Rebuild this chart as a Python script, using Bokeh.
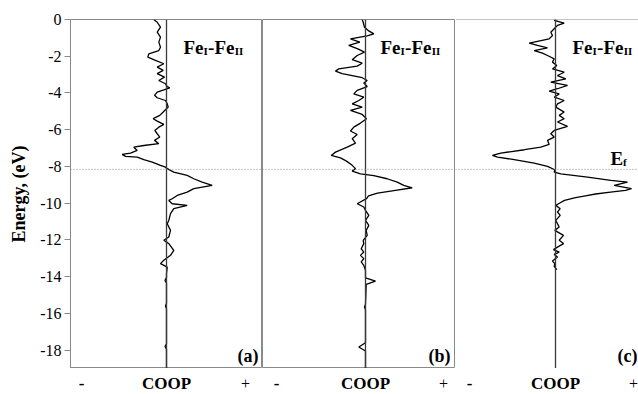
from bokeh.plotting import figure
from bokeh.layouts import row, column
from bokeh.models import Span, Label, Range1d, FixedTicker
from bokeh.core.properties import value
from bokeh.embed import file_html
from bokeh.resources import INLINE

# ---------------- data (COOP in arbitrary units) ----------------
energy_a = [0.00, -0.15, -0.42, -0.69, -0.96, -1.23, -1.51, -1.69, -1.87, -2.05,
            -2.23, -2.41, -2.59, -2.77, -2.95, -3.14, -3.32, -3.50, -3.65, -3.72,
            -3.83, -3.95, -4.13, -4.26, -4.41, -4.59, -4.77, -4.86, -5.04, -5.22,
            -5.40, -5.53, -5.71, -5.86, -6.04, -6.22, -6.40, -6.58, -6.76, -6.86,
            -6.95, -7.13, -7.27, -7.34, -7.45, -7.49, -7.63, -7.76, -7.94, -8.04,
            -8.12, -8.31, -8.49, -8.67, -8.85, -9.03, -9.21, -9.40, -9.58, -9.76,
            -9.85, -10.03, -10.12, -10.30, -10.57, -10.94, -11.12, -11.48, -11.84, -12.02,
            -12.20, -12.57, -12.84, -13.11, -13.29, -13.48, -13.84, -14.05, -14.20, -14.35,
            -15.45, -15.60, -15.75, -17.65, -17.80, -17.95, -19.00]
coop_a = [-12.7, -9.3, -6.0, -9.3, -6.0, -7.7, -6.0, -7.7, -17.7, -18.7,
          -11.0, -2.7, -9.3, -3.3, -9.3, -2.0, -7.7, -1.0, 0.7, 3.3,
          -2.7, -9.3, -12.0, -9.3, -1.0, 0.7, 1.7, 0.0, -3.3, -6.7,
          -13.3, -9.3, -2.7, -7.7, -11.7, -9.3, -6.7, -12.0, -7.7, -22.7,
          -32.7, -29.3, -36.0, -44.3, -41.0, -29.3, -22.7, -14.3, -6.0, -1.0,
          0.7, 7.3, 20.7, 27.3, 35.7, 45.7, 27.3, 20.7, 10.7, 5.7,
          2.3, 5.7, 20.7, 7.3, 4.0, 2.3, 0.7, 4.0, 2.3, -2.7,
          2.3, 7.3, 4.0, -2.7, -6.0, 0.7, 0.0, 0.0, -1.5, 0.0,
          0.0, -1.0, 0.0, 0.0, -1.5, 0.0, 0.0]

energy_b = [0.00, -0.15, -0.42, -0.62, -0.78, -0.89, -1.05, -1.23, -1.41, -1.60,
            -1.78, -1.96, -2.19, -2.38, -2.54, -2.69, -2.81, -2.95, -3.17, -3.32,
            -3.46, -3.65, -3.86, -4.05, -4.23, -4.41, -4.59, -4.77, -4.95, -5.17,
            -5.40, -5.64, -5.86, -6.07, -6.26, -6.49, -6.73, -6.95, -7.22, -7.40,
            -7.53, -7.71, -7.94, -8.12, -8.25, -8.40, -8.50, -8.67, -8.85, -9.03,
            -9.16, -9.30, -9.45, -9.60, -9.75, -10.03, -10.21, -10.39, -10.66, -10.94,
            -11.21, -11.48, -11.75, -12.02, -12.20, -12.48, -12.66, -12.84, -13.02, -13.20,
            -13.39, -13.66, -14.06, -14.24, -14.42, -15.50, -15.65, -15.80, -17.60, -17.83,
            -18.05, -19.00]
coop_b = [-3.3, -2.3, -1.0, 3.3, 8.3, 1.7, -15.0, -5.7, -16.7, -7.7,
          -1.0, -8.3, -13.3, -3.3, -8.3, -26.7, -30.0, -23.3, -3.3, 1.7,
          -1.7, 1.7, -8.3, -11.7, -1.7, -6.7, -13.3, -3.3, -15.0, -3.3,
          1.0, -5.0, -11.7, -15.0, -8.3, -13.3, -10.0, -18.3, -30.0, -34.3,
          -25.0, -19.0, -13.3, -10.0, -13.3, -5.0, 8.3, 21.7, 31.7, 38.3,
          46.7, 30.0, 12.0, 3.0, 1.0, -8.3, -1.7, 0.0, 3.3, 0.0,
          3.3, 0.7, 1.7, -2.3, -1.7, -4.3, -1.7, -5.0, -1.7, -4.3,
          -1.7, 0.0, 0.0, 10.0, 0.7, 0.0, -1.0, 0.0, 0.0, -6.7,
          0.0, 0.0]

energy_c = [0.00, -0.05, -0.20, -0.32, -0.50, -0.69, -0.87, -1.05, -1.29, -1.41,
            -1.54, -1.69, -1.83, -1.96, -2.14, -2.32, -2.50, -2.69, -2.87, -3.05,
            -3.23, -3.41, -3.59, -3.77, -3.90, -4.05, -4.23, -4.41, -4.59, -4.77,
            -5.04, -5.22, -5.40, -5.58, -5.82, -6.04, -6.22, -6.40, -6.58, -6.80,
            -6.95, -7.09, -7.27, -7.40, -7.49, -7.63, -7.82, -8.00, -8.18, -8.31,
            -8.40, -8.58, -8.76, -8.85, -9.03, -9.21, -9.30, -9.40, -9.50, -9.60,
            -9.70, -9.85, -10.03, -10.12, -10.30, -10.48, -10.66, -10.94, -11.30, -11.48,
            -11.75, -12.02, -12.20, -12.39, -12.53, -12.66, -12.79, -12.93, -13.15, -13.29,
            -13.44, -13.62]
coop_c = [0.0, -1.3, 8.7, 2.0, -1.3, -4.7, -3.0, -6.3, -26.3, -18.0,
          -8.0, -21.3, -13.0, -8.0, -1.3, -3.0, 1.3, -3.0, 8.7, 2.0,
          10.3, -4.7, 12.0, 2.0, -6.3, 3.7, -1.3, 8.7, 2.0, 0.3,
          8.7, 3.7, 8.7, 2.0, 12.0, -1.3, -4.7, -1.3, -8.0, -6.3,
          -14.7, -31.0, -54.7, -63.0, -58.0, -41.3, -21.3, -8.0, -0.7, -1.3,
          5.3, 32.0, 55.3, 72.0, 58.7, 76.0, 70.0, 55.0, 40.0, 30.0,
          20.0, 9.0, 3.0, 0.3, 4.7, 2.0, 4.7, 0.3, 3.7, -0.7,
          8.0, 3.7, 8.0, 2.0, -2.0, 3.7, -1.3, 2.0, -3.0, -0.7,
          -1.3, 1.3]

fermi_level = -8.16
energy_ticks = [0, -2, -4, -6, -8, -10, -12, -14, -16, -18]
panel_tags = ["(a)", "(b)", "(c)"]
bond_main = ["Fe", "-Fe"]
bond_sub = ["I", "II"]
caption_word = "COOP"
caption_signs = ["-", "+"]

# ---------------- styling ----------------
SERIF = "Liberation Serif"
FRAME = "#8a8a8a"
ZERO = "#3a3a3a"
INK = "black"

y_range = Range1d(-19, 0)
x_ranges = [Range1d(-96, 96), Range1d(-103, 90), Range1d(-100, 83)]
widths = [262, 193, 183]
left_borders = [70, 0, 0]

common = dict(height=368, y_range=y_range, output_backend="svg", toolbar_location=None,
              min_border_top=19, min_border_bottom=0, min_border_right=0,
              x_axis_location=None, background_fill_color="white",
              border_fill_color="white")

figs = []
for i in range(3):
    kw = dict(common)
    if i > 0:
        kw["y_axis_location"] = None
    f = figure(width=widths[i], x_range=x_ranges[i], min_border_left=left_borders[i], **kw)
    f.xgrid.visible = False
    f.ygrid.visible = False
    f.outline_line_color = FRAME
    f.outline_line_width = 1
    figs.append(f)

fa, fb, fc = figs
energies = [energy_a, energy_b, energy_c]
coops = [coop_a, coop_b, coop_c]

# third panel is cut by the picture edge: no right border
fc.outline_line_color = None
fc.add_layout(Span(location=0, dimension="width", line_color=FRAME, line_width=1))
fc.add_layout(Span(location=-19, dimension="width", line_color=FRAME, line_width=1))

# y axis
ax = fa.yaxis[0]
ax.ticker = FixedTicker(ticks=energy_ticks)
ax.major_label_overrides = {t: str(t) for t in energy_ticks}
ax.axis_label = "Energy, (eV)"
ax.axis_label_text_font = SERIF
ax.axis_label_text_font_style = "bold"
ax.axis_label_text_font_size = "18px"
ax.axis_label_text_color = INK
ax.axis_label_standoff = 8
ax.major_label_text_font = SERIF
ax.major_label_text_font_size = "16px"
ax.major_label_text_color = INK
ax.major_label_standoff = 3
ax.axis_line_color = FRAME
ax.major_tick_line_color = FRAME
ax.major_tick_out = 6
ax.major_tick_in = 0
ax.minor_tick_line_color = None

label_x = [17, 15, 17]
tag_x = [92, 85, 82]
sign_x = [[-85, 79], [-89, 78], [-86, 78]]


def add_label(f, x, y, text, size, **extra):
    f.add_layout(Label(x=x, y=y, text=text, text_font=SERIF, text_font_style="bold",
                       text_font_size=size, text_color=INK, **extra))


for i, f in enumerate(figs):
    f.add_layout(Span(location=0, dimension="height", line_color=ZERO, line_width=1.3))
    f.add_layout(Span(location=fermi_level, dimension="width", line_color="#8c8c8c",
                      line_width=1, line_dash="1 2"))
    f.line(coops[i], energies[i], line_color="black", line_width=1.3)

    # Fe_I - Fe_II label
    x0 = label_x[i]
    add_label(f, x0, -1.52, bond_main[0], "19px", text_baseline="alphabetic")
    add_label(f, x0 + 20.0, -1.74, bond_sub[0], "11px", text_baseline="alphabetic")
    add_label(f, x0 + 24.6, -1.52, bond_main[1], "19px", text_baseline="alphabetic")
    add_label(f, x0 + 51.2, -1.74, bond_sub[1], "11px", text_baseline="alphabetic")

    # panel tag
    add_label(f, tag_x[i], -18.33, panel_tags[i], "18px",
              text_align="right", text_baseline="middle")

# Fermi level label in panel (c)
add_label(fc, 55, -7.56, "E", "19px", text_baseline="alphabetic")
add_label(fc, 67.5, -7.78, "f", "11px", text_baseline="alphabetic")

# caption strips below each panel ("-  COOP  +")
strips = []
for i in range(3):
    s = figure(width=widths[i], height=26, x_range=x_ranges[i], y_range=Range1d(0, 1),
               output_backend="svg", toolbar_location=None,
               min_border_left=left_borders[i], min_border_right=0,
               min_border_top=0, min_border_bottom=0,
               x_axis_location=None, y_axis_location=None,
               background_fill_color="white", border_fill_color="white")
    s.outline_line_color = None
    s.xgrid.visible = False
    s.ygrid.visible = False
    s.text(x=[0], y=[0.42], text=[caption_word],
           text_font=value(SERIF), text_font_style="bold",
           text_font_size="17px", text_align="center", text_baseline="middle",
           text_color=INK)
    s.text(x=sign_x[i][:1], y=[0.42], text=caption_signs[:1],
           text_font=value(SERIF), text_font_style="bold",
           text_font_size="17px", text_align="center", text_baseline="middle",
           text_color=INK)
    s.text(x=sign_x[i][1:], y=[0.42], text=caption_signs[1:],
           text_font=value(SERIF), text_font_style="normal",
           text_font_size="16px", text_align="center", text_baseline="middle",
           text_color=INK)
    strips.append(s)

p = column(row(*figs, spacing=0), row(*strips, spacing=0), spacing=0)

open("out.html", "w").write(file_html(p, INLINE))
